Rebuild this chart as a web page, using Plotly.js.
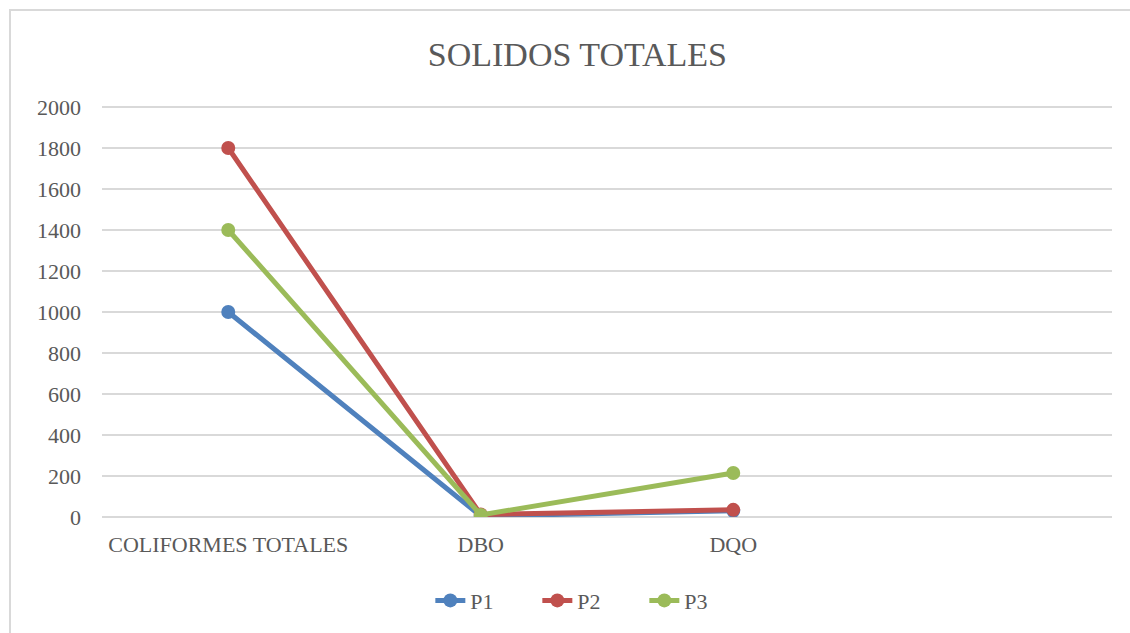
<!DOCTYPE html>
<html>
<head>
<meta charset="utf-8">
<script src="https://cdn.plot.ly/plotly-3.0.1.min.js"></script>
<style>
  body { margin: 0; background: #fff; }
  #chart { position: absolute; left: 0; top: 0; width: 1130px; height: 633px; }
  #frame { position: absolute; left: 9px; top: 9px; width: 1200px; height: 700px;
           border-left: 2px solid #d9d9d9; border-top: 2px solid #d9d9d9; pointer-events: none; }
</style>
</head>
<body>
<div id="chart"></div>
<div id="frame"></div>
<script>
const categories = ["COLIFORMES TOTALES", "DBO", "DQO"];
const seriesNames = ["P1", "P2", "P3"];
const p1 = [1000, 5, 30];
const p2 = [1800, 12, 35];
const p3 = [1400, 10, 215];
const colors = ["#4f81bd", "#c0504d", "#9bbb59"];
const yTicks = [0, 200, 400, 600, 800, 1000, 1200, 1400, 1600, 1800, 2000];

const fontFam = "Liberation Serif, DejaVu Serif, serif";
const values = [p1, p2, p3];
const traces = values.map((v, i) => ({
  x: categories, y: v, name: seriesNames[i], type: "scatter", mode: "lines+markers",
  line: { color: colors[i], width: 5 },
  marker: { color: colors[i], size: 14 }
}));

const layout = {
  width: 1130, height: 633,
  margin: { l: 102, r: 18, t: 105, b: 115 },
  paper_bgcolor: "#ffffff", plot_bgcolor: "#ffffff",
  font: { family: fontFam, color: "#595959", size: 22 },
  title: { text: "SOLIDOS TOTALES", font: { family: fontFam, size: 34, color: "#595959" },
           x: 0.511, xanchor: "center", y: 0.915, yanchor: "middle" },
  xaxis: { type: "category", categoryorder: "array", categoryarray: categories,
           range: [-0.5, 3.5], showgrid: false, zeroline: false, showline: false,
           ticks: "", ticklabelstandoff: 12, tickfont: { size: 22, family: fontFam, color: "#595959" } },
  yaxis: { range: [0, 2010], tickvals: yTicks, ticktext: yTicks.map(String),
           showgrid: true, gridcolor: "#d9d9d9", gridwidth: 1.3,
           zeroline: true, zerolinecolor: "#d9d9d9", zerolinewidth: 1.3, showline: false,
           ticks: "", ticklabelstandoff: 20, tickfont: { size: 22, family: fontFam, color: "#595959" } },
  showlegend: true,
  legend: { orientation: "h", x: 0.484, xanchor: "center", y: -0.2, yanchor: "middle",
            entrywidth: 62, entrywidthmode: "pixels",
            font: { size: 22, family: fontFam, color: "#595959" } }
};

Plotly.newPlot("chart", traces, layout, { displayModeBar: false, staticPlot: true });
</script>
</body>
</html>
